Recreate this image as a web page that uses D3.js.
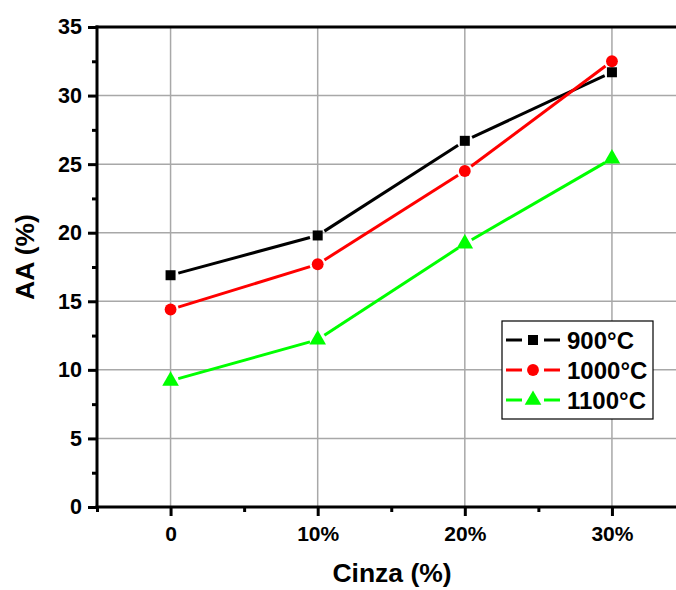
<!DOCTYPE html>
<html>
<head>
<meta charset="utf-8">
<script src="https://cdn.jsdelivr.net/npm/d3@7"></script>
<style>
  body { margin: 0; background: #fff; }
  text { font-family: "Liberation Sans", Arial, sans-serif; font-weight: bold; fill: #000; }
</style>
</head>
<body>
<svg id="chart" width="676" height="590"></svg>
<script>
// data
const categories = ["0", "10%", "20%", "30%"]
const seriesNames = ["900°C", "1000°C", "1100°C"]
const values900 = [16.9, 19.8, 26.7, 31.7]
const values1000 = [14.4, 17.7, 24.5, 32.5]
const values1100 = [9.2, 12.2, 19.2, 25.4]
const yTicks = [0, 5, 10, 15, 20, 25, 30, 35]

const colors = ["#000000", "#ff0000", "#00ff00"]
const shapes = [d3.symbolSquare, d3.symbolCircle, d3.symbolTriangle]
const sizes = [100, 110, 120]
const allSeries = [values900, values1000, values1100]

const svg = d3.select("#chart")
const plotLeft = 97, plotTop = 27, plotBottom = 507, plotRight = 685.5

var x = d3.scaleLinear().domain([-0.5, 3.5]).range([plotLeft, plotRight])
var y = d3.scaleLinear().domain([0, 35]).range([plotBottom, plotTop])

// grid
svg.append("g").selectAll("line").data(categories).join("line")
  .attr("x1", (d, i) => x(i)).attr("x2", (d, i) => x(i))
  .attr("y1", plotTop).attr("y2", plotBottom)
  .attr("stroke", "#a8a8a8").attr("stroke-width", 1.5)
svg.append("g").selectAll("line").data(yTicks.slice(1, -1)).join("line")
  .attr("x1", plotLeft).attr("x2", plotRight)
  .attr("y1", d => y(d)).attr("y2", d => y(d))
  .attr("stroke", "#a8a8a8").attr("stroke-width", 1.5)

// lines with gaps around the symbols
const gap = 8
allSeries.forEach(function(vals, s) {
  for (var i = 0; i < vals.length - 1; i++) {
    var x1 = x(i), y1 = y(vals[i]), x2 = x(i + 1), y2 = y(vals[i + 1])
    var len = Math.hypot(x2 - x1, y2 - y1)
    var dx = (x2 - x1) / len, dy = (y2 - y1) / len
    svg.append("line")
      .attr("x1", x1 + dx * gap).attr("y1", y1 + dy * gap)
      .attr("x2", x2 - dx * gap).attr("y2", y2 - dy * gap)
      .attr("stroke", colors[s]).attr("stroke-width", 3)
  }
  svg.append("g").selectAll("path").data(vals).join("path")
    .attr("d", d3.symbol().type(shapes[s]).size(sizes[s]))
    .attr("transform", (d, i) => "translate(" + x(i) + "," + y(d) + ")")
    .attr("fill", colors[s])
})

// axes
var yAxis = svg.append("g").attr("transform", "translate(" + plotLeft + ",0)")
  .call(d3.axisLeft(y).tickValues(yTicks).tickSize(9).tickPadding(6))
yAxis.selectAll("text").style("font-size", "21.5px")
var yMinor = svg.append("g").attr("transform", "translate(" + plotLeft + ",0)")
  .call(d3.axisLeft(y).tickValues(d3.range(2.5, 35, 5)).tickSize(5).tickFormat(""))

var xAxis = svg.append("g").attr("transform", "translate(0," + plotBottom + ")")
  .call(d3.axisBottom(x).tickValues([0, 1, 2, 3]).tickFormat((d) => categories[d]).tickSize(9).tickPadding(10))
xAxis.selectAll("text").style("font-size", "21px")
var xMinor = svg.append("g").attr("transform", "translate(0," + plotBottom + ")")
  .call(d3.axisBottom(x).tickValues([-0.5, 0.5, 1.5, 2.5, 3.5]).tickSize(5).tickFormat(""))

svg.selectAll(".domain").remove()
svg.selectAll(".tick line").attr("stroke", "#000").attr("stroke-width", 3)

svg.append("line").attr("x1", plotLeft).attr("x2", plotLeft).attr("y1", plotTop - 1.5).attr("y2", plotBottom + 1.5)
  .attr("stroke", "#000").attr("stroke-width", 3)
svg.append("line").attr("x1", plotLeft - 1.5).attr("x2", plotRight).attr("y1", plotBottom).attr("y2", plotBottom)
  .attr("stroke", "#000").attr("stroke-width", 3)
svg.append("line").attr("x1", plotLeft - 1.5).attr("x2", plotRight).attr("y1", plotTop).attr("y2", plotTop)
  .attr("stroke", "#000").attr("stroke-width", 3)

// axis titles
svg.append("text").attr("x", 392).attr("y", 582).attr("text-anchor", "middle")
  .style("font-size", "26.5px").text("Cinza (%)")
svg.append("text").attr("transform", "translate(34,257) rotate(-90)").attr("text-anchor", "middle")
  .style("font-size", "26.5px").text("AA (%)")

// legend
var legend = svg.append("g")
legend.append("rect").attr("x", 502).attr("y", 321).attr("width", 151).attr("height", 98)
  .attr("fill", "#fff").attr("stroke", "#000").attr("stroke-width", 1.2)
seriesNames.forEach(function(name, s) {
  var ly = 340 + s * 30
  legend.append("line").attr("x1", 506).attr("x2", 522).attr("y1", ly).attr("y2", ly)
    .attr("stroke", colors[s]).attr("stroke-width", 3)
  legend.append("line").attr("x1", 544).attr("x2", 560).attr("y1", ly).attr("y2", ly)
    .attr("stroke", colors[s]).attr("stroke-width", 3)
  legend.append("path").attr("d", d3.symbol().type(shapes[s]).size(sizes[s]))
    .attr("transform", "translate(533," + ly + ")").attr("fill", colors[s])
  legend.append("text").attr("x", 567).attr("y", ly + 8.5).style("font-size", "24px").text(name)
})
</script>
</body>
</html>
